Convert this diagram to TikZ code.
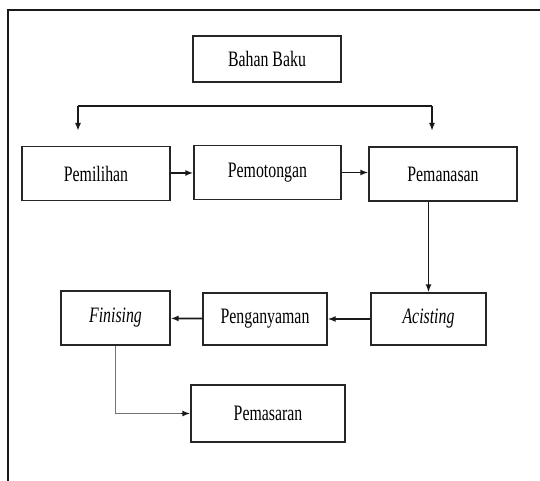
\documentclass[tikz,border=0pt]{standalone}
\usepackage{fontspec}
\setmainfont{Liberation Serif}[FakeStretch=0.72]
\usepackage{tikz}
\usetikzlibrary{arrows.meta, positioning, calc}
\tikzset{
    procblock/.style={rectangle, draw=black!85, fill=white, minimum width=#1, minimum height=54pt, align=center, font=\fontsize{22}{24}\selectfont, line width=1.3pt, inner sep=0pt},
    procarrow/.style={-{Latex[length=8pt, width=6pt]}, line width=1.8pt, black!90},
    procline/.style={line width=1.8pt, black!90},
    proclight/.style={line width=1.2pt, black!55},
    procframe/.style={line width=2.4pt, black!90}
}

\begin{document}
\begin{tikzpicture}[x=1pt, y=-1pt]

\useasboundingbox (0,0) rectangle (540,481);
\draw[procframe] (8,481) -- (8,10) -- (540,10);

\node[procblock=148pt, minimum height=46pt] (bahan) at (267,59) {Bahan Baku};
\node[procblock=148pt] (pemilihan) at (96,173.5) {Pemilihan};
\node[procblock=147pt] (pemotongan) at (267.5,172.5) {Pemotongan};
\node[procblock=148pt] (pemanasan) at (443,174) {Pemanasan};
\node[procblock=115pt, minimum height=52pt] (acisting) at (428.5,319) {\textit{Acisting}};
\node[procblock=124pt, minimum height=52pt] (penganyaman) at (265,319) {Penganyaman};
\node[procblock=109pt] (finising) at (115.5,318) {\textit{Finising}};
\node[procblock=154pt, minimum height=57pt] (pemasaran) at (268,413.5) {Pemasaran};

\coordinate (cabangL) at (78,106);
\coordinate (cabangR) at (432,106);
\coordinate (ujungL) at (78,131);
\coordinate (ujungR) at (432,131);

\draw[procline] (cabangL) -- (cabangR);
\draw[procarrow] (cabangL) -- (ujungL);
\draw[procarrow] (cabangR) -- (ujungR);

\draw[procarrow] (pemilihan) -- (pemotongan);
\draw[procarrow] (pemotongan) -- (pemotongan -| pemanasan.west);
\draw[procarrow] (pemanasan.south -| acisting.north) -- (acisting.north);
\draw[procarrow] (acisting) -- (penganyaman);
\draw[procarrow] (penganyaman) -- (finising);
\draw[proclight] (finising.south) |- ($(pemasaran.west)+(-8,0)$);
\draw[procarrow] ($(pemasaran.west)+(-9,0)$) -- (pemasaran.west);

\end{tikzpicture}
\end{document}
